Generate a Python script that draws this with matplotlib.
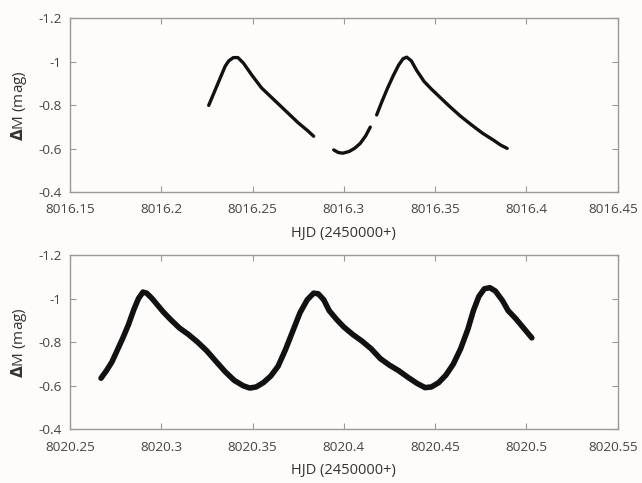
import numpy as np
import matplotlib
matplotlib.use("Agg")
import matplotlib.pyplot as plt
import matplotlib.transforms as mtransforms

plt.rcParams['font.family'] = ['Open Sans', 'DejaVu Sans']

# Top panel (night 8016) - gaps marked with None
top_hjd = [8016.226, 8016.229, 8016.232, 8016.235, 8016.237, 8016.2395, 8016.242,
           8016.245, 8016.250, 8016.255, 8016.260, 8016.265, 8016.270, 8016.275,
           8016.280, 8016.2835, None,
           8016.2945, 8016.297, 8016.2995, 8016.303, 8016.306, 8016.309, 8016.312,
           8016.3145, None,
           8016.318, 8016.321, 8016.324, 8016.327, 8016.330, 8016.3325, 8016.3345,
           8016.337, 8016.340, 8016.344, 8016.348, 8016.353, 8016.358, 8016.364,
           8016.370, 8016.376, 8016.382, 8016.386, 8016.3895]
top_dm = [-0.80, -0.86, -0.92, -0.98, -1.005, -1.02, -1.02,
          -0.995, -0.935, -0.88, -0.84, -0.80, -0.76, -0.72,
          -0.685, -0.658, None,
          -0.595, -0.583, -0.580, -0.588, -0.603, -0.625, -0.660,
          -0.700, None,
          -0.756, -0.82, -0.88, -0.935, -0.985, -1.015, -1.022,
          -1.005, -0.96, -0.91, -0.875, -0.835, -0.795, -0.75,
          -0.71, -0.672, -0.64, -0.617, -0.602]

# Bottom panel (night 8020)
bot_hjd = [8020.267, 8020.270, 8020.273, 8020.276, 8020.279, 8020.282, 8020.285,
           8020.2875, 8020.290, 8020.292, 8020.295, 8020.298, 8020.301, 8020.305,
           8020.310, 8020.315, 8020.320, 8020.325, 8020.330, 8020.335, 8020.340,
           8020.345, 8020.3485, 8020.352, 8020.356, 8020.360, 8020.364, 8020.368,
           8020.372, 8020.376, 8020.380, 8020.3835, 8020.386, 8020.389, 8020.392,
           8020.396, 8020.400, 8020.405, 8020.410, 8020.415, 8020.420, 8020.425,
           8020.430, 8020.435, 8020.440, 8020.4445, 8020.448, 8020.452, 8020.456,
           8020.460, 8020.464, 8020.468, 8020.471, 8020.474, 8020.477, 8020.480,
           8020.483, 8020.487, 8020.490, 8020.494, 8020.498, 8020.503]
bot_dm = [-0.635, -0.67, -0.71, -0.765, -0.82, -0.88, -0.95,
          -1.00, -1.03, -1.025, -1.00, -0.97, -0.94, -0.905,
          -0.865, -0.835, -0.80, -0.76, -0.712, -0.665, -0.625,
          -0.600, -0.590, -0.595, -0.615, -0.645, -0.69, -0.765,
          -0.85, -0.935, -0.995, -1.025, -1.022, -0.995, -0.945,
          -0.905, -0.87, -0.835, -0.805, -0.77, -0.725, -0.695,
          -0.67, -0.64, -0.612, -0.592, -0.595, -0.615, -0.65,
          -0.70, -0.77, -0.86, -0.945, -1.01, -1.045, -1.05,
          -1.035, -0.99, -0.945, -0.91, -0.87, -0.82]

top_xticks = [8016.15, 8016.2, 8016.25, 8016.3, 8016.35, 8016.4, 8016.45]
top_xlabels = ['8016.15', '8016.2', '8016.25', '8016.3', '8016.35', '8016.4', '8016.45']
bot_xticks = [8020.25, 8020.3, 8020.35, 8020.4, 8020.45, 8020.5, 8020.55]
bot_xlabels = ['8020.25', '8020.3', '8020.35', '8020.4', '8020.45', '8020.5', '8020.55']
yticks = [-1.2, -1.0, -0.8, -0.6, -0.4]
ylabels = ['-1.2', '-1', '-0.8', '-0.6', '-0.4']

bg = '#fefcfa'
fig = plt.figure(figsize=(6.42, 4.83), dpi=100, facecolor=bg)
ax1 = fig.add_axes([0.109, 0.6019, 0.853, 0.3598])
ax2 = fig.add_axes([0.109, 0.1108, 0.853, 0.3613])

def to_arr(v):
    return np.array([np.nan if a is None else a for a in v], dtype=float)

ax1.plot(to_arr(top_hjd), to_arr(top_dm), color='#111111', lw=2.4,
         solid_capstyle='round', solid_joinstyle='round')
ax2.plot(to_arr(bot_hjd), to_arr(bot_dm), color='#111111', lw=4.0,
         solid_capstyle='round', solid_joinstyle='round')

for ax, xt, xl in [(ax1, top_xticks, top_xlabels), (ax2, bot_xticks, bot_xlabels)]:
    ax.set_facecolor(bg)
    ax.set_xlim(xt[0], xt[-1])
    ax.set_ylim(-0.4, -1.2)
    ax.set_xticks(xt)
    ax.set_xticklabels(xl)
    ax.set_yticks(yticks)
    ax.set_yticklabels(ylabels)
    for s in ax.spines.values():
        s.set_color('#9a9a9a')
        s.set_linewidth(1.0)
    ax.tick_params(axis='both', direction='in', length=4, width=0.8,
                   color='#9a9a9a', labelcolor='#444444', labelsize=9.7,
                   top=True, right=True)
    ax.tick_params(axis='x', pad=8)
    ax.tick_params(axis='y', pad=6)
    ax.set_xlabel('HJD (2450000+)', fontsize=10.5, color='#333333', labelpad=7)
    ax.set_ylabel(r'$\mathbf{\Delta}$M (mag)', fontsize=11, color='#333333',
                  labelpad=7)
    last = ax.get_xticklabels()[-1]
    last.set_transform(last.get_transform() +
                       mtransforms.ScaledTranslation(-4 / 100, 0, fig.dpi_scale_trans))

fig.savefig('out.png', dpi=100, facecolor=bg)
